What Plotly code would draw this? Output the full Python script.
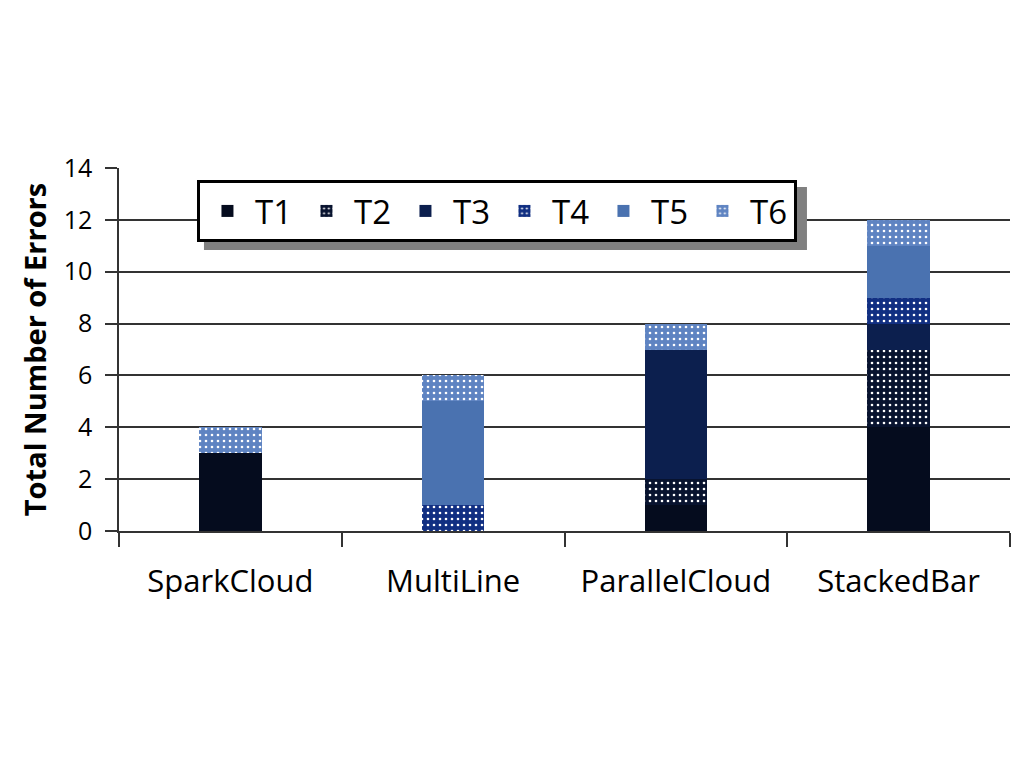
import plotly.graph_objects as go

categories = ["SparkCloud", "MultiLine", "ParallelCloud", "StackedBar"]
series_names = ["T1", "T2", "T3", "T4", "T5", "T6"]
T1 = [3, 0, 1, 4]
T2 = [0, 0, 1, 3]
T3 = [0, 0, 5, 1]
T4 = [0, 1, 0, 1]
T5 = [0, 4, 0, 2]
T6 = [1, 1, 1, 1]
series_values = [T1, T2, T3, T4, T5, T6]
colors = ["#050c1e", "#08132f", "#0c1f4e", "#112f82", "#4a72b0", "#5f84c2"]
dotted = [False, True, False, True, False, True]
y_ticks = [0, 2, 4, 6, 8, 10, 12, 14]

FONT = "'Open Sans', Lato, sans-serif"
LINE = "#333333"

fig = go.Figure()
for name, vals, col, dot in zip(series_names, series_values, colors, dotted):
    pattern = dict(shape=".", fgcolor="white", bgcolor=col, size=6, solidity=0.15, fillmode="replace") if dot else dict(shape="")
    fig.add_trace(go.Bar(
        x=categories, y=vals, name=name,
        marker=dict(color=col, line=dict(width=0), pattern=pattern),
    ))

LX, LY = 0.0875, 0.967
fig.update_layout(
    width=1024, height=768,
    barmode="stack", bargap=0.72,
    paper_bgcolor="white", plot_bgcolor="white",
    margin=dict(l=119, r=14, t=168, b=237),
    font=dict(family=FONT, color="black"),
    legend=dict(
        orientation="h", x=LX, y=LY, xanchor="left", yanchor="top",
        bgcolor="white", bordercolor="black", borderwidth=3,
        font=dict(size=33, family=FONT),
        entrywidth=39, entrywidthmode="pixels", itemwidth=45,
        traceorder="normal",
    ),
    showlegend=True,
)
fig.update_yaxes(
    range=[0, 14], tickvals=y_ticks, showgrid=True, gridcolor=LINE, gridwidth=1.6,
    ticks="outside", ticklen=12, tickcolor=LINE, tickwidth=1.5, showline=True, linecolor=LINE, linewidth=1.5,
    tickfont=dict(size=25, family=FONT), ticklabelstandoff=8, zeroline=False,
    title=dict(text="<b>Total Number of Errors</b>", font=dict(size=29, family=FONT), standoff=9),
)
fig.update_xaxes(
    showline=True, linecolor=LINE, linewidth=2, ticks="outside", tickson="boundaries",
    ticklen=14, tickcolor=LINE, tickwidth=1.5, tickfont=dict(size=31, family=FONT), ticklabelstandoff=22,
)
# legend shadow
fig.add_shape(type="rect", xref="paper", yref="paper",
              x0=LX + 7/891, x1=LX + (800-197)/891 + 7/891,
              y0=LY - (243-180)/363 - 7/363, y1=LY - 7/363,
              fillcolor="#808080", line=dict(width=0), layer="above")

fig.write_html("out.html")
